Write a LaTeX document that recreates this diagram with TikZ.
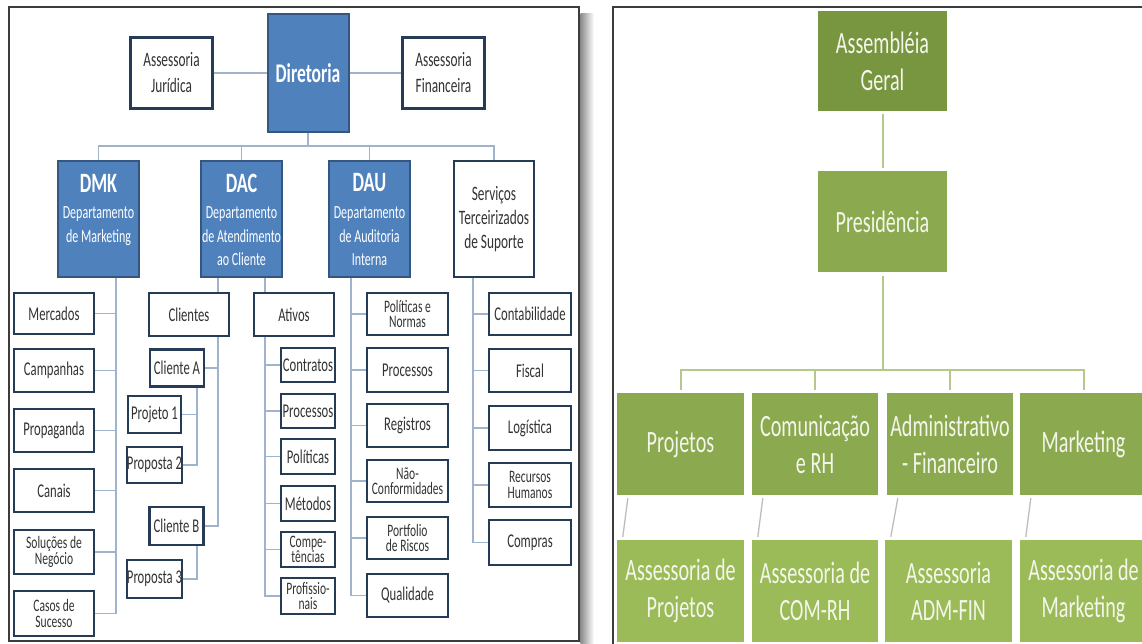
\documentclass[tikz,border=0pt]{standalone}
\usepackage{fontspec}
\setmainfont{Carlito}[FakeStretch=0.65]
\newfontfamily\narrowish{Carlito}[FakeStretch=0.66]
\usetikzlibrary{calc}
\definecolor{bluefill}{HTML}{4F81BD}
\definecolor{blueline}{HTML}{35577F}
\definecolor{boxline}{HTML}{263B56}
\definecolor{connblue}{HTML}{9FB4CC}
\definecolor{txtgray}{HTML}{333333}
\definecolor{gdark}{HTML}{78953F}
\definecolor{gmid}{HTML}{8BA94E}
\definecolor{glight}{HTML}{9BBB59}
\definecolor{gline}{HTML}{B3C88A}
\definecolor{gtext}{HTML}{F4F6EC}
\definecolor{diagc}{HTML}{BDBDBD}
\definecolor{framec}{HTML}{3C3C3C}
\begin{document}
\begin{tikzpicture}[x=1pt,y=-1pt,
  whitebox/.style={draw=boxline, line width=2.6pt, fill=white, inner sep=0pt, align=center, text=txtgray, font=\fontsize{19.5}{20}\selectfont},
  twoline/.style={font=\narrowish\fontsize{17.5}{15.5}\selectfont},
  bluebox/.style={draw=blueline, line width=2pt, fill=bluefill, inner sep=0pt, align=center, text=white},
  deptitle/.style={inner sep=0pt, text=white, font=\fontsize{28}{30}\selectfont\bfseries},
  depsub/.style={inner sep=0pt, text=white, align=center, anchor=north, font=\fontsize{18.5}{23.5}\selectfont},
  conn/.style={draw=connblue, line width=1.3pt},
  greenbox/.style={draw=none, inner sep=0pt, align=center, text=gtext, font=\fontsize{31}{37}\selectfont},
  gconn/.style={draw=gline, line width=2pt},
  dline/.style={draw=diagc, line width=1.3pt}]
\useasboundingbox (0,0) rectangle (1142,644);
\fill[white] (0,0) rectangle (1142,644);

% ---------- left panel frame and shadow ----------
\shade[left color=black!45, right color=white] (580.5,14) rectangle (594,644);
\draw[framec, line width=1.6pt] (9,7) rectangle (579,641);

% ---------- top row ----------
\node[whitebox, minimum width=82, minimum height=71, font=\fontsize{20.5}{26}\selectfont] (jur) at (171.5,73) {Assessoria\\Jurídica};
\node[bluebox, minimum width=81, minimum height=118, font=\fontsize{27}{30}\selectfont\bfseries] (dir) at (308,73) {Diretoria};
\node[whitebox, minimum width=82, minimum height=71, font=\fontsize{20.5}{26}\selectfont] (fin) at (443.5,73) {Assessoria\\Financeira};

% ---------- departments ----------
\node[bluebox, minimum width=81, minimum height=116] (dmk) at (98.5,219) {};
\node[deptitle] (dmkT) at (98.5,183) {DMK};
\node[depsub] (dmkS) at (98.5,206.5) {Departamento\\de Marketing};

\node[bluebox, minimum width=81, minimum height=116] (dac) at (241.5,219) {};
\node[deptitle] (dacT) at (241.5,183) {DAC};
\node[depsub] (dacS) at (241.5,206.5) {Departamento\\de Atendimento\\ao Cliente};

\node[bluebox, minimum width=81, minimum height=116] (dau) at (369.5,219) {};
\node[deptitle] (dauT) at (369.5,183) {DAU};
\node[depsub] (dauS) at (369.5,206.5) {Departamento\\de Auditoria\\Interna};

\node[whitebox, minimum width=80, minimum height=116, font=\fontsize{20.5}{24}\selectfont] (serv) at (494,219) {Serviços\\Terceirizados\\de Suporte};

% ---------- DMK children ----------
\node[whitebox, minimum width=80, minimum height=41] (merc) at (54,313.5) {Mercados};
\node[whitebox, minimum width=80, minimum height=43] (camp) at (54,370.5) {Campanhas};
\node[whitebox, minimum width=80, minimum height=43] (prop) at (54,430.5) {Propaganda};
\node[whitebox, minimum width=80, minimum height=43] (canais) at (54,490.5) {Canais};
\node[whitebox, twoline, minimum width=80, minimum height=44] (sol) at (54,552) {Soluções de\\Negócio};
\node[whitebox, twoline, minimum width=80, minimum height=45] (casos) at (54,613.5) {Casos de\\Sucesso};

% ---------- DAC children ----------
\node[whitebox, minimum width=80, minimum height=43] (clientes) at (189,314.5) {Clientes};
\node[whitebox, minimum width=80, minimum height=43] (ativos) at (294,314.5) {Ativos};
\node[whitebox, minimum width=54, minimum height=37] (cla) at (177,368) {Cliente A};
\node[whitebox, minimum width=53, minimum height=37] (pj1) at (154.5,414.5) {Projeto 1};
\node[whitebox, minimum width=53, minimum height=36] (pr2) at (154.5,465) {Proposta 2};
\node[whitebox, minimum width=54, minimum height=38] (clb) at (176.5,526) {Cliente B};
\node[whitebox, minimum width=53, minimum height=38] (pr3) at (154.5,579) {Proposta 3};

\node[whitebox, minimum width=54, minimum height=34] (contr) at (308,365) {Contratos};
\node[whitebox, minimum width=54, minimum height=34] (proc1) at (308,411) {Processos};
\node[whitebox, minimum width=54, minimum height=35] (polit) at (308,456.5) {Políticas};
\node[whitebox, minimum width=54, minimum height=35] (metod) at (308,503.5) {Métodos};
\node[whitebox, twoline, minimum width=54, minimum height=35] (compet) at (308,549.5) {Compe-\\tências};
\node[whitebox, twoline, minimum width=54, minimum height=36] (prof) at (308,596) {Profissio-\\nais};

% ---------- DAU children ----------
\node[whitebox, twoline, minimum width=81, minimum height=42] (pnorm) at (407.5,314) {Políticas e\\Normas};
\node[whitebox, minimum width=81, minimum height=44] (proc2) at (407.5,370) {Processos};
\node[whitebox, minimum width=81, minimum height=43] (regis) at (407.5,425.5) {Registros};
\node[whitebox, twoline, minimum width=81, minimum height=42] (naoc) at (407.5,481) {Não-\\Conformidades};
\node[whitebox, twoline, minimum width=81, minimum height=42] (portf) at (407.5,538) {Portfolio\\de Riscos};
\node[whitebox, minimum width=81, minimum height=43] (qual) at (407.5,595.5) {Qualidade};

% ---------- Servicos children ----------
\node[whitebox, minimum width=82, minimum height=42] (contab) at (530,314) {Contabilidade};
\node[whitebox, minimum width=82, minimum height=43] (fisc) at (530,370.5) {Fiscal};
\node[whitebox, minimum width=82, minimum height=44] (logi) at (530,428) {Logística};
\node[whitebox, twoline, minimum width=82, minimum height=44] (rh) at (530,485) {Recursos\\Humanos};
\node[whitebox, minimum width=82, minimum height=45] (compr) at (530,542.5) {Compras};

% ---------- left connectors ----------
\draw[conn] (jur) -- (dir);
\draw[conn] (dir) -- (fin);
\coordinate (busy) at (0,146);
\draw[conn] (dir.south) -- (dir.south |- busy);
\draw[conn] (dmk.north) -- (dmk.north |- busy) -- (serv.north |- busy) -- (serv.north);
\foreach \n in {dac,dau} \draw[conn] (\n.north |- busy) -- (\n.north);

\coordinate (dmkv) at (116,0);
\draw[conn] (dmk.south -| dmkv) |- (casos.east);
\foreach \n in {merc,camp,prop,canais,sol} \draw[conn] (\n.east) -- (\n.east -| dmkv);

\coordinate (clv) at (218,0);
\coordinate (atv) at (265,0);
\coordinate (cav) at (197,0);
\draw[conn] (dac.south -| clv) -- (clientes.north -| clv);
\draw[conn] (dac.south -| atv) -- (ativos.north -| atv);
\draw[conn] (clientes.south -| clv) |- (clb.east);
\draw[conn] (cla.east) -- (cla.east -| clv);
\draw[conn] (cla.south -| cav) |- (pr2.east);
\draw[conn] (pj1.east) -- (pj1.east -| cav);
\draw[conn] (clb.south -| cav) |- (pr3.east);
\draw[conn] (ativos.south -| atv) |- (prof.west);
\foreach \n in {contr,proc1,polit,metod,compet} \draw[conn] (\n.west) -- (\n.west -| atv);

\coordinate (dauv) at (351,0);
\draw[conn] (dau.south -| dauv) |- (qual.west);
\foreach \n in {pnorm,proc2,regis,naoc,portf} \draw[conn] (\n.west) -- (\n.west -| dauv);

\coordinate (srvv) at (473,0);
\draw[conn] (serv.south -| srvv) |- (compr.west);
\foreach \n in {contab,fisc,logi,rh} \draw[conn] (\n.west) -- (\n.west -| srvv);

% ---------- right panel ----------
\draw[framec, line width=1.3pt] (613,660) -- (613,7) -- (1160,7);

\node[greenbox, fill=gdark, minimum width=129, minimum height=100] (asm) at (882.5,61) {Assembléia\\Geral};
\node[greenbox, fill=gmid, minimum width=129, minimum height=101] (pres) at (882.5,221.5) {Presidência};

\node[greenbox, fill=gmid, minimum width=127, minimum height=102] (proj) at (680.5,444) {Projetos};
\node[greenbox, fill=gmid, minimum width=126, minimum height=102] (com) at (815,444) {Comunicação\\e RH};
\node[greenbox, fill=gmid, minimum width=126, minimum height=102] (adm) at (950,444) {Administrativo\\- Financeiro};
\node[greenbox, fill=gmid, minimum width=127, minimum height=102] (mkt) at (1083.5,444) {Marketing};

\node[greenbox, fill=glight, minimum width=127, minimum height=102] (aproj) at (680.5,591) {Assessoria de\\Projetos};
\node[greenbox, fill=glight, minimum width=126, minimum height=102] (acom) at (815,591) {Assessoria de\\COM-RH};
\node[greenbox, fill=glight, minimum width=127, minimum height=102] (aadm) at (948.5,591) {Assessoria\\ADM-FIN};
\node[greenbox, fill=glight, minimum width=127, minimum height=102] (amkt) at (1083.5,591) {Assessoria de\\Marketing};

\draw[gconn, shorten <=3pt, shorten >=3pt] (asm) -- (pres);
\coordinate (gbus) at (0,370);
\draw[gconn, shorten <=4pt] (pres.south) -- (pres.south |- gbus);
\draw[gconn, shorten <=3pt, shorten >=3pt] (proj.north) -- (proj.north |- gbus) -- (mkt.north |- gbus) -- (mkt.north);
\foreach \n in {com,adm} \draw[gconn, shorten >=3pt] (\n.north |- gbus) -- (\n.north);

\foreach \a/\b in {proj/aproj,com/acom,adm/aadm,mkt/amkt}
  \draw[dline] ($(\a.south west)+(11,3)$) -- ($(\b.north west)+(6,-3)$);
\end{tikzpicture}
\end{document}
